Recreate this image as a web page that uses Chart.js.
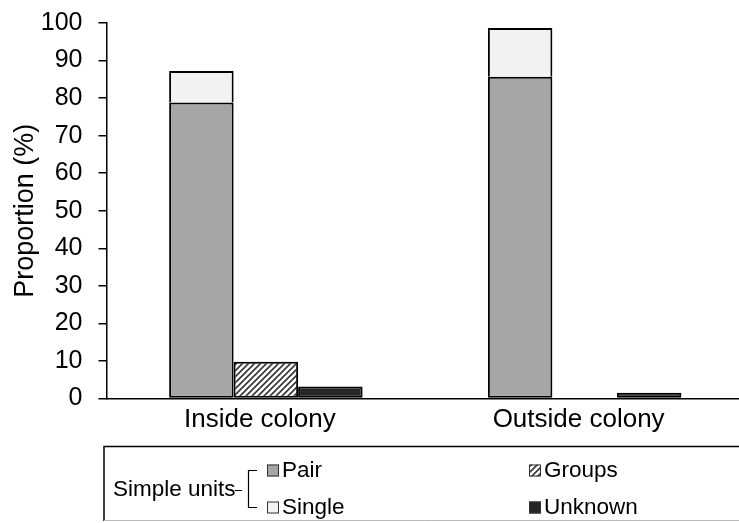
<!DOCTYPE html>
<html>
<head>
    <meta charset="UTF-8">
    <title>Proportion by colony</title>
    <script src="https://cdn.jsdelivr.net/npm/chart.js@4"></script>
    <style>
        html, body { margin: 0; padding: 0; background: #fff; overflow: hidden; }
        #wrap { width: 744px; height: 523px; }
    </style>
</head>
<body>
    <div id="wrap"><canvas id="chart" width="744" height="523"></canvas></div>
    <script>
        // dados
        const categories = ['Inside colony', 'Outside colony'];
        const pairValues = [78.8, 85.7];
        const singleValues = [8.4, 13.0];
        const groupsValues = [9.8, 0];
        const unknownValues = [3.2, 1.5];
        const yMin = 0, yMax = 100, yStep = 10;

        const FONT = '"Liberation Sans", Arial, sans-serif';

        // hachura para "Groups"
        const makeHatch = () => {
            const c = document.createElement('canvas');
            c.width = 6; c.height = 6;
            const g = c.getContext('2d');
            g.fillStyle = '#fff';
            g.fillRect(0, 0, 6, 6);
            g.strokeStyle = '#333';
            g.lineWidth = 1.6;
            g.beginPath();
            g.moveTo(0, 6); g.lineTo(6, 0);
            g.moveTo(-3, 3); g.lineTo(3, -3);
            g.moveTo(3, 9); g.lineTo(9, 3);
            g.stroke();
            return g.createPattern(c, 'repeat');
        };
        const hatch = makeHatch();

        // legenda em caixa, com chave "Simple units"
        const boxLegend = {
            id: 'boxLegend',
            afterDraw(chart) {
                const ctx = chart.ctx;
                const ds = chart.data.datasets;
                ctx.save();
                ctx.strokeStyle = '#000';
                ctx.lineWidth = 1.5;
                ctx.beginPath();
                ctx.moveTo(800, 446.5);
                ctx.lineTo(104, 446.5);
                ctx.lineTo(104, 521);
                ctx.stroke();
                ctx.strokeStyle = '#bbb';
                ctx.lineWidth = 1;
                ctx.beginPath();
                ctx.moveTo(104, 520.5);
                ctx.lineTo(800, 520.5);
                ctx.stroke();

                ctx.font = '22.5px ' + FONT;
                ctx.fillStyle = '#000';
                ctx.textBaseline = 'middle';
                ctx.fillText('Simple units', 113, 490);

                // chave
                ctx.strokeStyle = '#000';
                ctx.lineWidth = 1.2;
                ctx.beginPath();
                ctx.moveTo(235, 490.5); ctx.lineTo(242, 490.5);
                ctx.moveTo(257, 470.5); ctx.lineTo(248.5, 470.5); ctx.lineTo(248.5, 507.5); ctx.lineTo(257, 507.5);
                ctx.stroke();

                const items = [
                    [ds[0], 267, 470.5],
                    [ds[1], 267, 507.5],
                    [ds[2], 529, 470.5],
                    [ds[3], 529, 507.5]
                ];
                items.forEach(([d, x, y]) => {
                    ctx.fillStyle = d.backgroundColor;
                    ctx.fillRect(x, y - 6, 12, 12);
                    ctx.strokeStyle = '#333';
                    ctx.lineWidth = 1;
                    ctx.strokeRect(x + 0.5, y - 5.5, 11, 11);
                    ctx.fillStyle = '#000';
                    ctx.fillText(d.label, x + 15, y);
                });
                ctx.restore();
            }
        };

        new Chart(document.getElementById('chart'), {
            type: 'bar',
            data: {
                labels: categories,
                datasets: [
                    { label: 'Pair', data: pairValues, stack: 's1', backgroundColor: '#a6a6a6', borderSkipped: false },
                    { label: 'Single', data: singleValues, stack: 's1', backgroundColor: '#f2f2f2', borderSkipped: 'bottom' },
                    { label: 'Groups', data: groupsValues, stack: 's2', backgroundColor: hatch, borderSkipped: false },
                    { label: 'Unknown', data: unknownValues, stack: 's3', backgroundColor: '#262626', borderSkipped: false }
                ].map(d => Object.assign(d, {
                    borderColor: '#000',
                    borderWidth: 2,
                    barPercentage: 1,
                    categoryPercentage: 0.607
                }))
            },
            options: {
                responsive: false,
                animation: false,
                devicePixelRatio: 1,
                layout: { padding: { top: 23, right: 0, bottom: 0, left: 0 } },
                plugins: {
                    legend: { display: false },
                    tooltip: { enabled: false }
                },
                scales: {
                    x: {
                        stacked: true,
                        grid: { display: false, drawTicks: false },
                        border: { display: true, color: '#000', width: 1.5 },
                        ticks: { color: '#000', padding: 6, labelOffset: -6, font: { family: FONT, size: 26 } },
                        afterFit: s => { s.height = 124.5; s.paddingLeft = 0; s.paddingRight = 0; }
                    },
                    y: {
                        stacked: true,
                        min: yMin,
                        max: yMax,
                        grid: { drawOnChartArea: false, drawTicks: true, tickLength: 8, color: '#000', lineWidth: 1.5 },
                        border: { display: true, color: '#000', width: 1.5 },
                        ticks: { stepSize: yStep, color: '#000', padding: 16, font: { family: FONT, size: 25 } },
                        title: {
                            display: true,
                            text: 'Proportion (%)',
                            color: '#000',
                            font: { family: FONT, size: 27 },
                            padding: { top: 9, bottom: 0 }
                        },
                        afterFit: s => { s.width = 106.5; s.paddingTop = 0; s.paddingBottom = 0; }
                    }
                }
            },
            plugins: [boxLegend]
        });
    </script>
</body>
</html>
